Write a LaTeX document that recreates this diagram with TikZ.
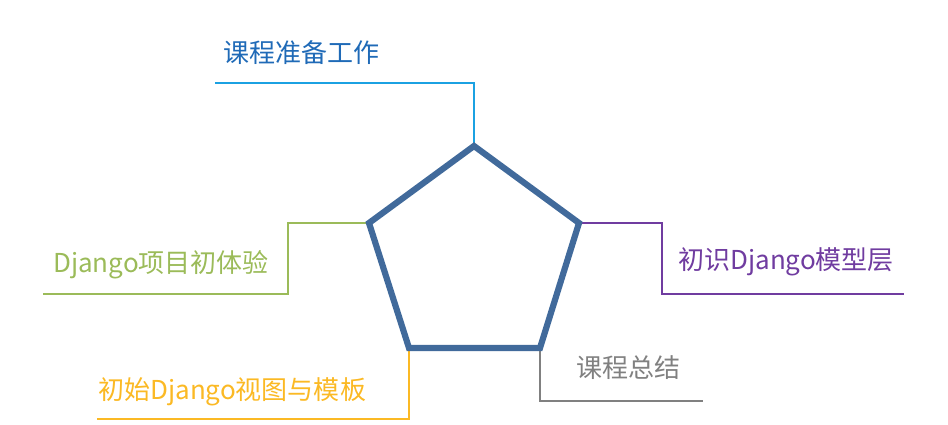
\documentclass[tikz,border=0pt]{standalone}
\usepackage{fontspec}
\newfontfamily\cjk{Noto Sans CJK SC}
\usetikzlibrary{positioning}
\definecolor{pentablue}{RGB}{65,106,155}
\definecolor{prepline}{RGB}{27,161,226}
\definecolor{preptext}{RGB}{31,106,183}
\definecolor{projgreen}{RGB}{155,187,89}
\definecolor{viewyellow}{RGB}{251,185,36}
\definecolor{sumgrey}{RGB}{128,128,128}
\definecolor{modpurple}{RGB}{112,60,160}

\begin{document}
\begin{tikzpicture}[x=0.025cm, y=-0.025cm,
  conn/.style={line width=2pt},
  topic/.style={font=\cjk\fontsize{18.5}{22}\selectfont, anchor=base west, inner sep=0pt},
  penta/.style={draw=pentablue, line width=4.4pt, line join=miter},
]
\useasboundingbox (0,0) rectangle (948,425);
% pentagon corners
\coordinate (top) at (474,146);
\coordinate (rt) at (579,223);
\coordinate (br) at (540,348);
\coordinate (bl) at (409,348);
\coordinate (lt) at (369,223);
% free ends of the connectors
\coordinate (prepend) at (215,83);
\coordinate (projknee) at (288,294);
\coordinate (projend) at (43,294);
\coordinate (viewend) at (97,419);
\coordinate (sumend) at (703,401);
\coordinate (modknee) at (662,294);
\coordinate (modend) at (904,294);
% labels
\node[topic, text=preptext] (prep) at (223,63) {课程准备工作};
\node[topic, text=projgreen] (proj) at (53,273) {Django项目初体验};
\node[topic, text=viewyellow] (view) at (98,400) {初始Django视图与模板};
\node[topic, text=sumgrey] (sum) at (576,378) {课程总结};
\node[topic, text=modpurple] (mod) at (678,270) {初识Django模型层};
% connectors
\draw[conn, prepline] (top) |- (prepend);
\draw[conn, projgreen] (lt) -| (projknee) -- (projend);
\draw[conn, viewyellow] (bl) |- (viewend);
\draw[conn, sumgrey] (br) |- (sumend);
\draw[conn, modpurple] (rt) -| (modknee) -- (modend);
\draw[penta] (top) -- (rt) -- (br) -- (bl) -- (lt) -- cycle;
\end{tikzpicture}
\end{document}
